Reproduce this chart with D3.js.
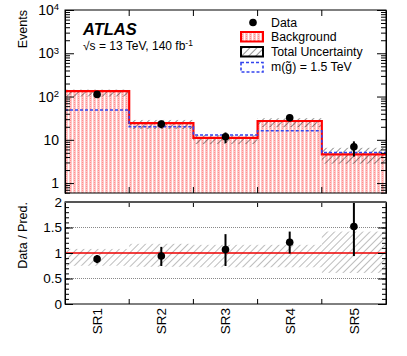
<!DOCTYPE html>
<html>
<head>
<meta charset="utf-8">
<script src="https://cdn.jsdelivr.net/npm/d3@7"></script>
<style>
  body { margin: 0; background: #fff; }
  text { font-family: "Liberation Sans", Arial, sans-serif; fill: #000; }
</style>
</head>
<body>
<div id="plot"></div>
<script>
// values
var categories  = ["SR1", "SR2", "SR3", "SR4", "SR5"];
var background  = [134, 24.4, 11.1, 27.2, 4.6];
var signal      = [48.7, 20, 12.9, 16.2, 5.1];   // m(gluino) = 1.5 TeV
var data        = [112, 23.1, 11.8, 32.3, 6.9];
var dataErrLow  = [10.5, 4.6, 3.4, 5.6, 2.8];
var dataErrHigh = [10.5, 4.8, 3.0, 5.8, 2.3];
var uncLow      = [0.75, 0.73, 0.72, 0.72, 0.61];  // relative band
var uncHigh     = [1.08, 1.18, 1.16, 1.16, 1.42];
var ratio        = [0.88, 0.94, 1.07, 1.21, 1.52];
var ratioErrLow  = [0.08, 0.195, 0.325, 0.22, 0.58];
var ratioErrHigh = [0.08, 0.18, 0.30, 0.21, 0.6];
var yTicksTop   = [1, 10, 100, 1000, 10000];
var yTicksRatio = [0, 0.5, 1, 1.5, 2];

var W = 407, H = 356;
var left = 65, right = 386;
var top1 = 10, bot1 = 193;   // main panel
var top2 = 202, bot2 = 304;  // ratio panel

var svg = d3.select("#plot").append("svg")
  .attr("width", W).attr("height", H);

var defs = svg.append("defs");
// pink dotted fill like ROOT style
var pf = defs.append("pattern").attr("id", "bkgfill")
  .attr("patternUnits", "userSpaceOnUse").attr("width", 4).attr("height", 4);
pf.append("rect").attr("width", 4).attr("height", 4).attr("fill", "#ffc6c6");
pf.append("rect").attr("x", 0).attr("width", 1).attr("height", 4).attr("fill", "#fff");
pf.append("rect").attr("x", 2).attr("y", 0).attr("width", 1).attr("height", 1).attr("fill", "#ff8f8f");
pf.append("rect").attr("x", 2).attr("y", 2).attr("width", 1).attr("height", 1).attr("fill", "#ff8f8f");

function hatch(id, col, sw, sp) {
  var p = defs.append("pattern").attr("id", id)
    .attr("patternUnits", "userSpaceOnUse").attr("width", sp).attr("height", sp)
    .attr("patternTransform", "rotate(45)");
  p.append("line").attr("x1", 0).attr("y1", 0).attr("x2", 0).attr("y2", sp)
    .attr("stroke", col).attr("stroke-width", sw);
}
hatch("hatchTop", "#111", 0.9, 5);
hatch("hatchRatio", "#999", 1.3, 5);

var x = d3.scaleBand().domain(categories).range([left, right]).paddingInner(0).paddingOuter(0);
var y = d3.scaleLog().domain([0.59, 1e4]).range([bot1, top1]);
var yr = d3.scaleLinear().domain([0, 2]).range([bot2, top2]);

defs.append("clipPath").attr("id", "c1").append("rect")
  .attr("x", left).attr("y", top1).attr("width", right - left).attr("height", bot1 - top1);
defs.append("clipPath").attr("id", "c2").append("rect")
  .attr("x", left).attr("y", top2).attr("width", right - left).attr("height", bot2 - top2);

// ---------- main panel ----------
var g1 = svg.append("g").attr("clip-path", "url(#c1)");

g1.selectAll(".bkg").data(categories).enter().append("rect")
  .attr("x", function (d) { return x(d); })
  .attr("width", x.bandwidth())
  .attr("y", function (d, i) { return y(background[i]); })
  .attr("height", function (d, i) { return bot1 - y(background[i]); })
  .attr("fill", "url(#bkgfill)");

g1.selectAll(".unc").data(categories).enter().append("rect")
  .attr("x", function (d) { return x(d); })
  .attr("width", x.bandwidth())
  .attr("y", function (d, i) { return y(background[i] * uncHigh[i]); })
  .attr("height", function (d, i) { return y(background[i] * uncLow[i]) - y(background[i] * uncHigh[i]); })
  .attr("fill", "url(#hatchTop)");

function stepPath(vals, yscale) {
  var pts = [];
  vals.forEach(function (v, i) {
    pts.push([x(categories[i]), yscale(v)]);
    pts.push([x(categories[i]) + x.bandwidth(), yscale(v)]);
  });
  return d3.line()(pts);
}

g1.append("path").attr("d", stepPath(background, y))
  .attr("fill", "none").attr("stroke", "#ff0000").attr("stroke-width", 2.2);
g1.append("path").attr("d", stepPath(signal, y))
  .attr("fill", "none").attr("stroke", "#3344ee").attr("stroke-width", 1.6)
  .attr("stroke-dasharray", "3,2");

g1.selectAll(".err").data(categories).enter().append("line")
  .attr("x1", function (d) { return x(d) + x.bandwidth() / 2; })
  .attr("x2", function (d) { return x(d) + x.bandwidth() / 2; })
  .attr("y1", function (d, i) { return y(data[i] + dataErrHigh[i]); })
  .attr("y2", function (d, i) { return y(data[i] - dataErrLow[i]); })
  .attr("stroke", "#000").attr("stroke-width", 2);
g1.selectAll(".pt").data(categories).enter().append("circle")
  .attr("cx", function (d) { return x(d) + x.bandwidth() / 2; })
  .attr("cy", function (d, i) { return y(data[i]); })
  .attr("r", 3.8).attr("fill", "#000");

// axes main panel
var minorTop = [];
yTicksTop.slice(0, -1).forEach(function (t) { for (var k = 2; k <= 9; k++) minorTop.push(t * k); });
[0.6, 0.7, 0.8, 0.9].forEach(function (v) { minorTop.push(v); });

function supFmt(sel) {
  sel.selectAll(".tick text").each(function (d) {
    var t = d3.select(this);
    if (d >= 100) {
      t.text("");
      t.append("tspan").text("10");
      t.append("tspan").attr("dy", "-0.5em").attr("font-size", "9.5px").text(Math.round(Math.log10(d)));
    }
  });
}

var axL = svg.append("g").attr("transform", "translate(" + left + ",0)")
  .call(d3.axisLeft(y).tickValues(yTicksTop).tickFormat(d3.format("d")).tickSizeInner(-9).tickSizeOuter(0).tickPadding(6));
axL.attr("font-size", 14).attr("font-family", "Liberation Sans, Arial, sans-serif");
axL.call(supFmt);
svg.append("g").attr("transform", "translate(" + left + ",0)")
  .call(d3.axisLeft(y).tickValues(minorTop).tickFormat("").tickSizeInner(-5).tickSizeOuter(0));
svg.append("g").attr("transform", "translate(" + right + ",0)")
  .call(d3.axisRight(y).tickValues(yTicksTop).tickFormat("").tickSizeInner(-9).tickSizeOuter(0));
svg.append("g").attr("transform", "translate(" + right + ",0)")
  .call(d3.axisRight(y).tickValues(minorTop).tickFormat("").tickSizeInner(-5).tickSizeOuter(0));

// bin-edge ticks
var edges = categories.slice(1);
function edgeTicks(y0, dir, len) {
  svg.append("g").selectAll("line").data(edges).enter().append("line")
    .attr("x1", function (d) { return x(d); }).attr("x2", function (d) { return x(d); })
    .attr("y1", y0).attr("y2", y0 + dir * len)
    .attr("stroke", "#000").attr("stroke-width", 1);
}
edgeTicks(bot1, -1, 6); edgeTicks(top1, 1, 6);
edgeTicks(bot2, -1, 5); edgeTicks(top2, 1, 5);

svg.append("rect").attr("x", left).attr("y", top1).attr("width", right - left).attr("height", bot1 - top1)
  .attr("fill", "none").attr("stroke", "#000").attr("stroke-width", 1);

svg.append("text").attr("transform", "translate(27," + top1 + ") rotate(-90)")
  .attr("text-anchor", "end").attr("font-size", "12.5px").text("Events");

// labels
svg.append("text").attr("x", 83).attr("y", 34.5)
  .attr("font-size", "16.5px").attr("font-weight", "bold").attr("font-style", "italic").text("ATLAS");
var en = svg.append("text").attr("x", 83).attr("y", 50).attr("font-size", "12px");
en.append("tspan").text("\u221As = 13 TeV, 140 fb");
en.append("tspan").attr("dy", "-0.45em").attr("font-size", "8.5px").text("-1");

// legend
var lgx = 241, lgt = 271;
svg.append("circle").attr("cx", 253).attr("cy", 22.5).attr("r", 3.8).attr("fill", "#000");
svg.append("text").attr("x", lgt).attr("y", 26.5).attr("font-size", "12.3px").text("Data");
svg.append("rect").attr("x", lgx).attr("y", 32).attr("width", 22).attr("height", 9.5)
  .attr("fill", "url(#bkgfill)").attr("stroke", "#ff0000").attr("stroke-width", 2);
svg.append("text").attr("x", lgt).attr("y", 41).attr("font-size", "12.3px").text("Background");
svg.append("rect").attr("x", lgx).attr("y", 47).attr("width", 22).attr("height", 9.5)
  .attr("fill", "url(#hatchTop)").attr("stroke", "#000").attr("stroke-width", 2);
svg.append("text").attr("x", lgt).attr("y", 55.5).attr("font-size", "12.3px").text("Total Uncertainty");
svg.append("rect").attr("x", lgx).attr("y", 62.5).attr("width", 22).attr("height", 9.5)
  .attr("fill", "#fff").attr("stroke", "#3344ee").attr("stroke-width", 1.6).attr("stroke-dasharray", "3,2");
var sl = svg.append("text").attr("x", lgt).attr("y", 70.5).attr("font-size", "12.3px");
sl.text("m(g\u0303) = 1.5 TeV");

// ---------- ratio panel ----------
var g2 = svg.append("g").attr("clip-path", "url(#c2)");

g2.selectAll(".grid").data([0.5, 1.5]).enter().append("line")
  .attr("x1", left).attr("x2", right)
  .attr("y1", function (d) { return yr(d); }).attr("y2", function (d) { return yr(d); })
  .attr("stroke", "#888").attr("stroke-width", 1).attr("stroke-dasharray", "1,1");

g2.selectAll(".runc").data(categories).enter().append("rect")
  .attr("x", function (d) { return x(d); })
  .attr("width", x.bandwidth())
  .attr("y", function (d, i) { return yr(uncHigh[i]); })
  .attr("height", function (d, i) { return yr(uncLow[i]) - yr(uncHigh[i]); })
  .attr("fill", "url(#hatchRatio)");

g2.append("line").attr("x1", left).attr("x2", right)
  .attr("y1", yr(1)).attr("y2", yr(1))
  .attr("stroke", "#ee0000").attr("stroke-width", 1.5);

g2.selectAll(".rerr").data(categories).enter().append("line")
  .attr("x1", function (d) { return x(d) + x.bandwidth() / 2; })
  .attr("x2", function (d) { return x(d) + x.bandwidth() / 2; })
  .attr("y1", function (d, i) { return yr(ratio[i] + ratioErrHigh[i]); })
  .attr("y2", function (d, i) { return yr(ratio[i] - ratioErrLow[i]); })
  .attr("stroke", "#000").attr("stroke-width", 2);
g2.selectAll(".rpt").data(categories).enter().append("circle")
  .attr("cx", function (d) { return x(d) + x.bandwidth() / 2; })
  .attr("cy", function (d, i) { return yr(ratio[i]); })
  .attr("r", 3.8).attr("fill", "#000");

var minorR = d3.range(0, 2.01, 0.1);
var axR = svg.append("g").attr("transform", "translate(" + left + ",0)")
  .call(d3.axisLeft(yr).tickValues(yTicksRatio).tickFormat(d3.format("")).tickSizeInner(-8).tickSizeOuter(0).tickPadding(3));
axR.attr("font-size", 13.5).attr("font-family", "Liberation Sans, Arial, sans-serif");
svg.append("g").attr("transform", "translate(" + left + ",0)")
  .call(d3.axisLeft(yr).tickValues(minorR).tickFormat("").tickSizeInner(-4).tickSizeOuter(0));
svg.append("g").attr("transform", "translate(" + right + ",0)")
  .call(d3.axisRight(yr).tickValues(yTicksRatio).tickFormat("").tickSizeInner(-8).tickSizeOuter(0));
svg.append("g").attr("transform", "translate(" + right + ",0)")
  .call(d3.axisRight(yr).tickValues(minorR).tickFormat("").tickSizeInner(-4).tickSizeOuter(0));

svg.append("rect").attr("x", left).attr("y", top2).attr("width", right - left).attr("height", bot2 - top2)
  .attr("fill", "none").attr("stroke", "#000").attr("stroke-width", 1);
svg.append("line").attr("x1", left).attr("x2", right).attr("y1", top2).attr("y2", top2)
  .attr("stroke", "#555").attr("stroke-width", 1.8);

// x labels
var axB = svg.append("g").attr("transform", "translate(0," + bot2 + ")")
  .call(d3.axisBottom(x).tickSize(0).tickPadding(0));
axB.attr("font-size", 13.5).attr("font-family", "Liberation Sans, Arial, sans-serif");
axB.select(".domain").remove();
axB.selectAll(".tick text")
  .attr("transform", "rotate(-90)")
  .attr("text-anchor", "end")
  .attr("x", -4).attr("y", 0).attr("dy", "0.36em");

svg.selectAll(".domain").attr("stroke", "#000");

svg.append("text").attr("transform", "translate(27," + top2 + ") rotate(-90)")
  .attr("text-anchor", "end").attr("font-size", "12.5px").text("Data / Pred.");
</script>
</body>
</html>
